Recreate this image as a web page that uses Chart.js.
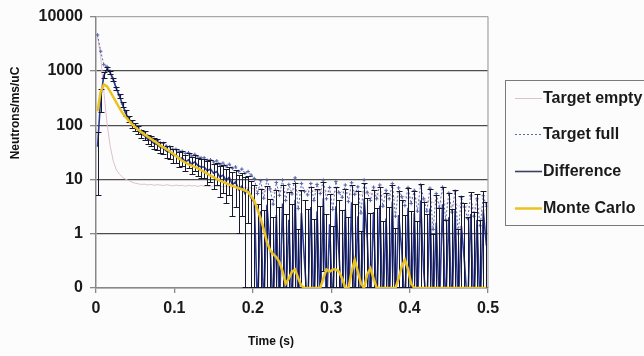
<!DOCTYPE html>
<html>
<head>
<meta charset="utf-8">
<title>Neutron die-away</title>
<script src="https://cdn.jsdelivr.net/npm/chart.js@4.4.1/dist/chart.umd.min.js"></script>
<style>
  html, body { margin: 0; padding: 0; background: #fdfcfc; }
  #wrap { width: 644px; height: 356px; }
</style>
</head>
<body>
<div id="wrap"><canvas id="chart" width="644" height="356"></canvas></div>
<script>
// Time bins (s)
const time = [
  0.002, 0.006, 0.010, 0.014, 0.018, 0.022, 0.026, 0.030, 0.034, 0.038,
  0.042, 0.046, 0.050, 0.054, 0.058, 0.062, 0.066, 0.070, 0.074, 0.078,
  0.082, 0.086, 0.090, 0.094, 0.098, 0.102, 0.106, 0.110, 0.114, 0.118,
  0.122, 0.126, 0.130, 0.134, 0.138, 0.142, 0.146, 0.150, 0.154, 0.158,
  0.162, 0.166, 0.170, 0.174, 0.178, 0.182, 0.186, 0.190, 0.194, 0.198,
  0.202, 0.206, 0.210, 0.214, 0.218, 0.222, 0.226, 0.230, 0.234, 0.238,
  0.242, 0.246, 0.250, 0.254, 0.258, 0.262, 0.266, 0.270, 0.274, 0.278,
  0.282, 0.286, 0.290, 0.294, 0.298, 0.302, 0.306, 0.310, 0.314, 0.318,
  0.322, 0.326, 0.330, 0.334, 0.338, 0.342, 0.346, 0.350, 0.354, 0.358,
  0.362, 0.366, 0.370, 0.374, 0.378, 0.382, 0.386, 0.390, 0.394, 0.398,
  0.402, 0.406, 0.410, 0.414, 0.418, 0.422, 0.426, 0.430, 0.434, 0.438,
  0.442, 0.446, 0.450, 0.454, 0.458, 0.462, 0.466, 0.470, 0.474, 0.478,
  0.482, 0.486, 0.490, 0.494, 0.498
];

// Neutrons/ms/uC
const targetEmpty = [
  4300, 1800, 420, 110, 42, 22, 15, 12.5, 11, 10,
  9.5, 8.9, 8.5, 8.3, 8.1, 8.2, 7.9, 8.1, 7.8, 8.0,
  7.9, 7.7, 8.0, 7.8, 7.6, 7.9, 7.7, 7.8, 7.5, 7.8,
  7.6, 7.7, 7.4, 7.8, 7.5, 7.6, 7.3, 7.7, 7.4, 7.5,
  7.3, 7.6, 7.2, 7.4, 7.1, 7.3, 7.0, 7.2, 6.9, 7.0,
  6.6, 6.1, 6.8, 5.9, 6.5, 6.2, 5.7, 6.6, 6.0, 6.3,
  5.9, 6.6, 6.1, 6.8, 5.7, 6.3, 6.0, 6.5, 5.6, 6.2,
  5.8, 6.4, 5.5, 6.1, 5.9, 5.3, 6.2, 5.6, 6.0, 5.4,
  5.8, 5.2, 5.9, 5.5, 5.1, 5.7, 5.3, 5.6, 5.0, 5.4,
  4.9, 5.3, 4.7, 5.2, 4.8, 4.5, 5.1, 4.6, 4.9, 4.4,
  4.7, 4.1, 4.5, 4.0, 4.4, 3.9, 4.2, 3.7, 4.1, 3.6,
  3.9, 3.5, 3.8, 3.3, 3.6, 3.2, 3.5, 3.0, 3.3, 2.9,
  3.1, 2.8, 3.0, 2.6, 2.8
];

const targetFull = [
  4600, 2300, 1300, 1200, 980, 720, 490, 350, 245, 175,
  138, 114, 100, 89, 78, 72, 64, 60, 55, 52,
  47, 46, 41, 40, 36, 36, 33, 33, 30, 31,
  27, 29, 26, 25, 25, 22.5, 23, 21, 22, 19,
  20, 17.5, 19, 16, 17, 14, 15.5, 13, 14, 12,
  10.4, 5.5, 9.5, 4.5, 9.8, 6.7, 3.5, 8.8, 5.1, 9.8,
  4.1, 8.1, 5.4, 10.7, 2.9, 8.4, 6.0, 5.2, 8.4, 4.1,
  8.1, 5.5, 9.7, 4.4, 7.1, 2.8, 9.1, 5.7, 4.7, 7.9,
  3.9, 8.7, 5.3, 7.3, 2.4, 9.8, 5.8, 4.1, 7.2, 4.4,
  7.9, 3.2, 6.3, 4.4, 8.4, 2.1, 7.0, 4.8, 3.3, 7.1,
  3.6, 6.3, 2.6, 7.9, 4.4, 2.6, 6.9, 1.2, 5.5, 3.0,
  7.2, 1.8, 5.6, 2.5, 6.1, 1.0, 4.7, 3.1, 1.9, 5.0,
  2.1, 4.4, 1.4, 5.0, 3.2
];

// full minus empty, with its statistical error
const difference = [
  40, 320, 820, 1080, 930, 690, 470, 340, 235, 165,
  128, 104, 92, 80, 69, 64, 55, 52, 46, 44,
  39, 38, 33, 32, 28, 28, 24, 25, 21, 23,
  19, 21, 18, 17, 17, 14.5, 15.5, 13, 14, 11,
  12, 9.5, 11, 8, 9, 6.5, 7.5, 5.5, 6.5, 4.5,
  3.8, -0.5, 2.6, -1.2, 3.4, 0.6, -2, 2.2, -0.8, 3.6,
  -1.5, 1.8, -0.4, 4.2, -2.5, 2.4, 0.3, -1, 3.1, -1.8,
  2.6, -0.6, 4.5, -1.4, 1.5, -2.2, 3.2, 0.4, -1, 2.8,
  -1.6, 3.8, -0.3, 2.1, -2.4, 4.4, 0.8, -1.2, 2.5, -0.7,
  3.3, -1.8, 1.9, -0.5, 3.9, -2.1, 2.2, 0.5, -1.3, 3.0,
  -0.9, 2.4, -1.7, 4.1, 0.2, -1.1, 2.9, -2.3, 1.6, -0.4,
  3.5, -1.5, 2.0, -0.6, 2.7, -2.0, 1.4, 0.3, -1.2, 2.3,
  -0.8, 1.8, -1.4, 2.6, 0.6
];

const differenceErr = [
  35, 150, 120, 90, 80, 60, 45, 40, 30, 25,
  20, 18, 16, 15, 14, 13, 12, 12, 11, 11,
  10, 10, 9, 9, 8.5, 8.5, 8, 8, 7.5, 7.5,
  7, 7, 7, 7, 7, 7, 7, 6.5, 6.5, 6.5,
  6.5, 6, 6, 6, 6, 5.5, 5.5, 5.5, 5, 5,
  4.2, 4.0, 4.1, 3.9, 4.3, 3.8, 4.0, 4.1, 3.9, 4.2,
  3.8, 4.1, 3.9, 4.4, 3.7, 4.0, 3.9, 3.8, 4.2, 3.7,
  4.0, 3.8, 4.3, 3.7, 3.9, 3.6, 4.1, 3.8, 3.7, 4.0,
  3.6, 4.2, 3.8, 3.9, 3.5, 4.3, 3.7, 3.6, 3.9, 3.7,
  4.0, 3.5, 3.8, 3.6, 4.1, 3.4, 3.8, 3.7, 3.5, 3.9,
  3.5, 3.8, 3.4, 4.0, 3.6, 3.4, 3.8, 3.3, 3.6, 3.4,
  3.8, 3.3, 3.6, 3.4, 3.7, 3.2, 3.5, 3.4, 3.2, 3.6,
  3.3, 3.5, 3.2, 3.6, 3.3
];

const monteCarlo = [
  180, 420, 560, 520, 420, 330, 260, 205, 165, 140,
  120, 104, 92, 82, 74, 67, 61, 56, 51, 47,
  42, 39, 36, 33, 30, 27, 24.5, 22, 20.5, 19,
  18, 17, 16, 14.8, 13.8, 12.8, 11.8, 11, 10.2, 9.5,
  9.0, 8.5, 8.0, 7.6, 7.2, 6.9, 6.6, 6.3, 5.8, 4.9,
  4.0, 2.8, 1.9, 1.2, 0.7, 0.5, 0.42, 0.37, 0.3, 0.2,
  0.12, 0.15, 0.2, 0.22, 0.15, 0.11, 0, 0, 0, 0,
  0, 0, 0.15, 0.22, 0.2, 0.22, 0.22, 0.2, 0.15, 0,
  0, 0.2, 0.33, 0.2, 0.12, 0, 0.18, 0.23, 0.15, 0,
  0, 0, 0, 0, 0, 0, 0.15, 0.25, 0.33, 0.22,
  0.12, 0, 0, 0, 0, 0, 0, 0, 0, 0,
  0, 0, 0, 0, 0, 0, 0, 0, 0, 0,
  0, 0, 0, 0, 0
];

const xTicks = [0, 0.1, 0.2, 0.3, 0.4, 0.5];
const xTickLabels = ["0", "0.1", "0.2", "0.3", "0.4", "0.5"];
const yTicks = [0.1, 1, 10, 100, 1000, 10000];
const yTickLabels = ["0", "1", "10", "100", "1000", "10000"];

const legendOrder = ["Target empty", "Target full", "Difference", "Monte Carlo"];

const Y_MIN = 0.1;
const Y_MAX = 10000;
const FONT = "'Liberation Sans', Arial, sans-serif";

// log axis: zero / negative counts go just under the bottom edge (clipped)
const toPoints = (values) => time.map((t, i) => ({ x: t, y: values[i] > 0 ? values[i] : Y_MIN * 0.4 }));
// simulation zeros sit on the bottom axis
const toFloorPoints = (values) => time.map((t, i) => ({ x: t, y: Math.max(values[i], Y_MIN) }));

// Vertical error bars with caps on the Difference series
const errorBars = {
  id: "errorBars",
  afterDatasetDraw(chart, args) {
    if (chart.data.datasets[args.index].label !== "Difference") return;
    const { ctx, chartArea, scales } = chart;
    ctx.save();
    ctx.beginPath();
    ctx.rect(chartArea.left, chartArea.top, chartArea.right - chartArea.left, chartArea.bottom - chartArea.top + 1);
    ctx.clip();
    ctx.strokeStyle = "#17192e";
    ctx.lineWidth = 1;
    ctx.beginPath();
    time.forEach((t, i) => {
      const hi = difference[i] + differenceErr[i];
      const lo = Math.max(difference[i] - differenceErr[i], Y_MIN);
      if (hi <= Y_MIN) return;
      const x = Math.round(scales.x.getPixelForValue(t)) + 0.5;
      const yHi = Math.round(scales.y.getPixelForValue(hi)) + 0.5;
      const yLo = Math.round(scales.y.getPixelForValue(lo)) - 0.5;
      ctx.moveTo(x, yHi);
      ctx.lineTo(x, yLo);
      ctx.moveTo(x - 3, yHi);
      ctx.lineTo(x + 3, yHi);
      ctx.moveTo(x - 3, yLo);
      ctx.lineTo(x + 3, yLo);
    });
    ctx.stroke();
    ctx.restore();
  },
};

// Right edge of the plot area
const plotFrame = {
  id: "plotFrame",
  afterDraw(chart) {
    const { ctx, chartArea } = chart;
    ctx.save();
    ctx.strokeStyle = "#aaaaaa";
    ctx.lineWidth = 1.3;
    ctx.beginPath();
    ctx.moveTo(chartArea.right, chartArea.top);
    ctx.lineTo(chartArea.right, chartArea.bottom);
    ctx.stroke();
    ctx.restore();
  },
};

// Boxed legend on the right
const legendBox = {
  id: "legendBox",
  afterDraw(chart) {
    const { ctx } = chart;
    ctx.save();
    ctx.strokeStyle = "#7a7a7a";
    ctx.lineWidth = 1;
    ctx.strokeRect(505.5, 80.5, 150, 145);
    ctx.font = "bold 16px " + FONT;
    ctx.textBaseline = "middle";
    ctx.textAlign = "left";
    const rows = [98, 134, 171, 208];
    legendOrder.forEach((name, i) => {
      const ds = chart.data.datasets.find((d) => d.label === name);
      const y = rows[i] + 0.5;
      ctx.strokeStyle = ds.legendColor || ds.borderColor;
      ctx.lineWidth = ds.borderWidth;
      ctx.setLineDash(ds.borderDash || []);
      ctx.beginPath();
      ctx.moveTo(515, y);
      ctx.lineTo(542, y);
      ctx.stroke();
      ctx.setLineDash([]);
      ctx.fillStyle = "#1a1a1a";
      ctx.fillText(name, 543, y);
    });
    ctx.restore();
  },
};

// Axis titles
const axisTitles = {
  id: "axisTitles",
  afterDraw(chart) {
    const { ctx } = chart;
    ctx.save();
    ctx.fillStyle = "#111111";
    ctx.font = "bold 12px " + FONT;
    ctx.textAlign = "center";
    ctx.textBaseline = "middle";
    ctx.fillText("Time (s)", 271, 342);
    ctx.translate(16, 113);
    ctx.rotate(-Math.PI / 2);
    ctx.fillText("Neutrons/ms/uC", 0, 0);
    ctx.restore();
  },
};

new Chart(document.getElementById("chart"), {
  type: "line",
  data: {
    datasets: [
      {
        label: "Monte Carlo",
        data: toFloorPoints(monteCarlo),
        borderColor: "#ebc31e",
        borderWidth: 2.5,
        pointRadius: 0,
        order: 0,
      },
      {
        label: "Difference",
        data: toPoints(difference),
        borderColor: "#2c3896",
        legendColor: "#3c4060",
        borderWidth: 1.6,
        pointRadius: 0,
        order: 1,
      },
      {
        label: "Target full",
        data: toPoints(targetFull),
        borderColor: "#5a66aa",
        borderWidth: 1,
        borderDash: [2, 2],
        pointStyle: "cross",
        pointRadius: 1.8,
        pointBorderWidth: 1,
        pointBorderColor: "#5a66aa",
        order: 2,
      },
      {
        label: "Target empty",
        data: toPoints(targetEmpty),
        borderColor: "#dcc0cb",
        borderWidth: 1,
        pointRadius: 0,
        order: 3,
      },
    ],
  },
  options: {
    responsive: false,
    animation: false,
    devicePixelRatio: 1,
    layout: { padding: { left: 0, top: 15, right: 156, bottom: 0 } },
    plugins: {
      legend: { display: false },
      tooltip: { enabled: false },
    },
    scales: {
      x: {
        type: "linear",
        min: 0,
        max: 0.5,
        afterBuildTicks: (scale) => {
          scale.ticks = xTicks.map((v) => ({ value: v }));
        },
        afterFit: (scale) => {
          scale.height = 68;
        },
        ticks: {
          callback: (v, i) => xTickLabels[i],
          autoSkip: false,
          maxRotation: 0,
          padding: 6,
          color: "#1a1a1a",
          font: { family: FONT, size: 16, weight: "bold" },
        },
        grid: { drawOnChartArea: false, tickLength: 5, color: "#888888", lineWidth: 1.3 },
        border: { color: "#888888", width: 1.5 },
      },
      y: {
        type: "logarithmic",
        min: Y_MIN,
        max: Y_MAX,
        afterBuildTicks: (scale) => {
          scale.ticks = yTicks.map((v) => ({ value: v }));
        },
        afterFit: (scale) => {
          scale.width = 96;
        },
        ticks: {
          callback: (v, i) => yTickLabels[i],
          autoSkip: false,
          padding: 7,
          color: "#1a1a1a",
          font: { family: FONT, size: 16, weight: "bold" },
        },
        grid: {
          color: (ctx) => {
            if (ctx.tick && ctx.tick.value === Y_MAX) return "#a8a8a8";
            if (ctx.tick && ctx.tick.value === Y_MIN) return "#888888";
            return "#4d4d4d";
          },
          lineWidth: 1.3,
          tickLength: 6,
          tickColor: "#888888",
        },
        border: { color: "#888888", width: 1.5 },
      },
    },
  },
  plugins: [errorBars, plotFrame, legendBox, axisTitles],
});
</script>
</body>
</html>
